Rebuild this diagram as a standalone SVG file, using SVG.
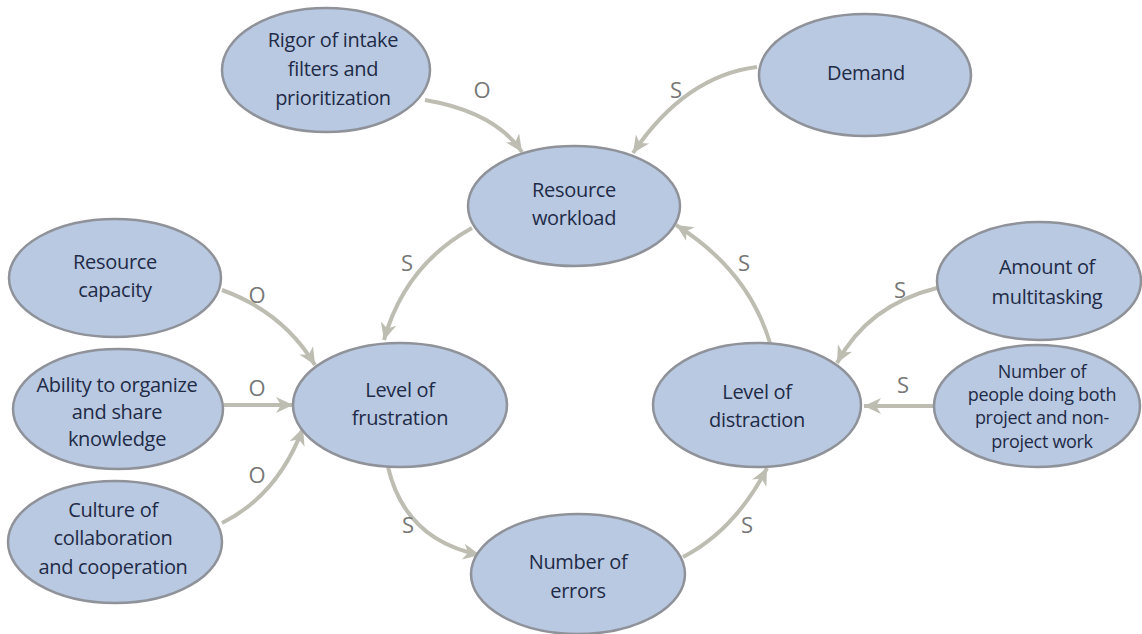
<svg xmlns="http://www.w3.org/2000/svg" width="1142" height="634" viewBox="0 0 1142 634">
<style>
.n ellipse{fill:#b8c9e1;stroke:#8f9299;stroke-width:2.5}
.n text{font-family:"Open Sans","Liberation Sans",sans-serif;font-size:20px;fill:#1f2b47;text-anchor:middle;letter-spacing:-0.3px}
.n text.s{font-size:18px}
.c path{fill:none;stroke:#bdbdb2;stroke-width:4;marker-end:url(#ah)}
.l{font-family:"Open Sans","Liberation Sans",sans-serif;font-size:22px;fill:#777;text-anchor:middle}
</style>
<defs>
<marker id="ah" markerUnits="userSpaceOnUse" viewBox="-18 -9 19 18" refX="0" refY="0" markerWidth="19" markerHeight="18" orient="auto">
<path d="M0,0 L-17,-8 L-12,0 L-17,8 Z" fill="#bdbdb2"/>
</marker>
</defs>
<rect width="1142" height="634" fill="#fff"/>
<g class="c" id="connectors">
<path d="M425 100 Q495 112 522 152"/>
<path d="M757 67 Q685 76 633 153"/>
<path d="M472 228 Q405 265 384 340"/>
<path d="M770 343 Q748 270 676 225"/>
<path d="M222 290 Q283 312 315 365"/>
<path d="M224 405 L293 405"/>
<path d="M222 523 Q278 495 303 428"/>
<path d="M388 467 Q405 540 480 555"/>
<path d="M683 557 Q735 530 767 468"/>
<path d="M937 288 Q868 305 837 363"/>
<path d="M934 406 L864 406"/>
</g>
<g id="labels">
<text class="l" x="482" y="98">O</text>
<text class="l" x="676" y="98">S</text>
<text class="l" x="407" y="271">S</text>
<text class="l" x="744" y="271">S</text>
<text class="l" x="257" y="303">O</text>
<text class="l" x="257" y="396">O</text>
<text class="l" x="257" y="483">O</text>
<text class="l" x="408" y="533">S</text>
<text class="l" x="747" y="533">S</text>
<text class="l" x="900" y="298">S</text>
<text class="l" x="903" y="393">S</text>
</g>
<g class="n" id="rigor"><ellipse cx="326" cy="70" rx="104" ry="62"/>
<text x="333" y="47">Rigor of intake</text><text x="333" y="76">filters and</text><text x="333" y="105">prioritization</text></g>
<g class="n" id="demand"><ellipse cx="865" cy="75" rx="106" ry="61"/>
<text x="866" y="80">Demand</text></g>
<g class="n" id="workload"><ellipse cx="574" cy="206" rx="106" ry="60"/>
<text x="574" y="197">Resource</text><text x="574" y="225">workload</text></g>
<g class="n" id="capacity"><ellipse cx="115" cy="278" rx="106" ry="59"/>
<text x="115" y="269">Resource</text><text x="115" y="297">capacity</text></g>
<g class="n" id="ability"><ellipse cx="118" cy="409" rx="105" ry="60"/>
<text x="117" y="392">Ability to organize</text><text x="117" y="419">and share</text><text x="117" y="446">knowledge</text></g>
<g class="n" id="culture"><ellipse cx="115" cy="542" rx="107" ry="61"/>
<text x="113" y="517">Culture of</text><text x="113" y="545">collaboration</text><text x="113" y="574">and cooperation</text></g>
<g class="n" id="frustration"><ellipse cx="400" cy="405" rx="107" ry="62"/>
<text x="400" y="397">Level of</text><text x="400" y="425">frustration</text></g>
<g class="n" id="distraction"><ellipse cx="757" cy="405" rx="104" ry="62"/>
<text x="757" y="399">Level of</text><text x="757" y="427">distraction</text></g>
<g class="n" id="multitasking"><ellipse cx="1039" cy="281" rx="102" ry="59"/>
<text x="1047" y="274">Amount of</text><text x="1047" y="304">multitasking</text></g>
<g class="n" id="people"><ellipse cx="1037" cy="406" rx="103" ry="61"/>
<text class="s" x="1042" y="378">Number of</text><text class="s" x="1042" y="401">people doing both</text><text class="s" x="1042" y="424">project and non-</text><text class="s" x="1042" y="448">project work</text></g>
<g class="n" id="errors"><ellipse cx="578" cy="574" rx="107" ry="60"/>
<text x="578" y="569">Number of</text><text x="578" y="598">errors</text></g>
</svg>
